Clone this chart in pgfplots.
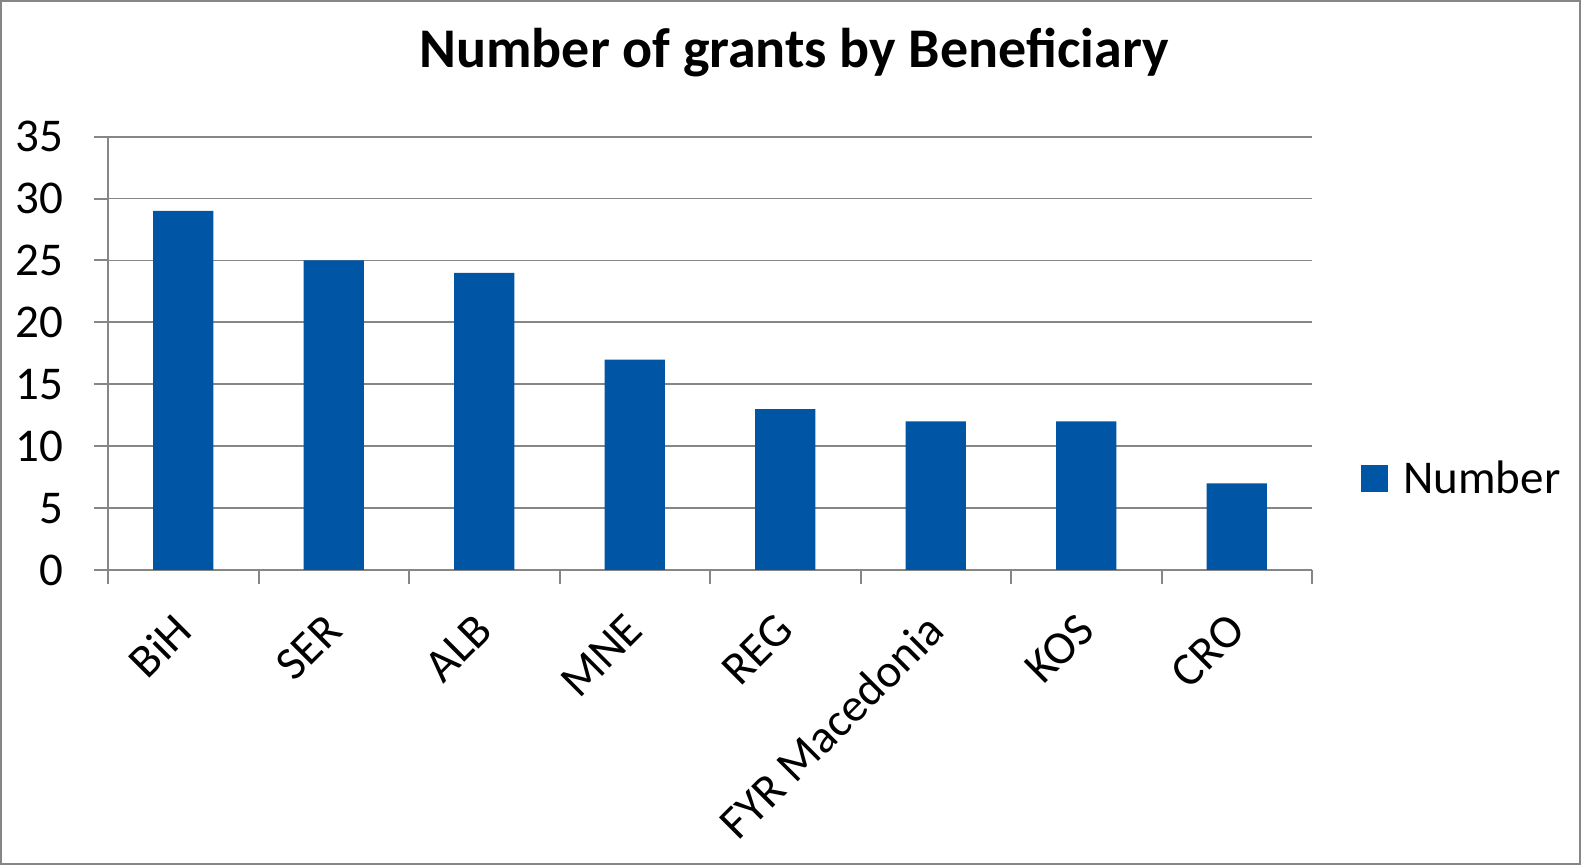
\documentclass[border=0pt]{standalone}
\usepackage{fontspec}
\setmainfont{Carlito}
\usepackage{pgfplots}
\pgfplotsset{compat=1.18}
\definecolor{barblue}{HTML}{0055A5}
\definecolor{axgray}{HTML}{868686}
\begin{document}
\begin{tikzpicture}[x=1pt,y=1pt]
\useasboundingbox (0,0) rectangle (791,432.5);
\draw[axgray, line width=1pt] (0.5,0.5) rectangle (790,432);
\begin{axis}[
  at={(54pt,147.5pt)}, anchor=south west,
  scale only axis, width=602pt, height=216.65pt,
  xmin=-0.5, xmax=7.5, ymin=0, ymax=35,
  axis x line*=bottom, axis y line*=left,
  axis line style={axgray, line width=1pt},
  tick align=outside, major tick length=7pt,
  tick style={axgray, line width=1pt},
  ytick={0,5,...,35},
  ymajorgrids, grid style={axgray, line width=0.9pt},
  xtick={-0.5,0.5,...,7.5}, xticklabels={},
  extra x ticks={0,1,2,3,4,5,6,7},
  extra x tick labels={BiH,SER,ALB,MNE,REG,FYR Macedonia,KOS,CRO},
  extra x tick style={major tick length=0pt, tick style={draw=none}},
  /pgf/number format/assume math mode=true,
  tick label style={font=\fontsize{23.5}{27}\selectfont, text=black},
  yticklabel style={anchor=east, inner sep=0pt, xshift=-15pt},
  xticklabel style={rotate=45, anchor=east, inner sep=0pt},
  xticklabel shift=26pt,
  title={\bfseries Number of grants by Beneficiary},
  title style={at={(0.5698,1)}, anchor=base, yshift=28.35pt, font=\fontsize{28}{32}\selectfont\bfseries, inner sep=0pt},
  legend style={at={(1.0407,0.211)}, anchor=west, draw=none, inner sep=0pt, font=\fontsize{23.5}{27}\selectfont, legend cell align=left},
  legend image code/.code={\fill[barblue] (0pt,-6.75pt) rectangle (13.5pt,6.75pt); \path (19pt,0pt);},
]
\addplot[ybar, bar width=0.4, fill=barblue, draw=none, bar shift=0pt]
  coordinates {(0,29) (1,25) (2,24) (3,17) (4,13) (5,12) (6,12) (7,7)};
\legend{Number}
\end{axis}
\end{tikzpicture}
\end{document}
